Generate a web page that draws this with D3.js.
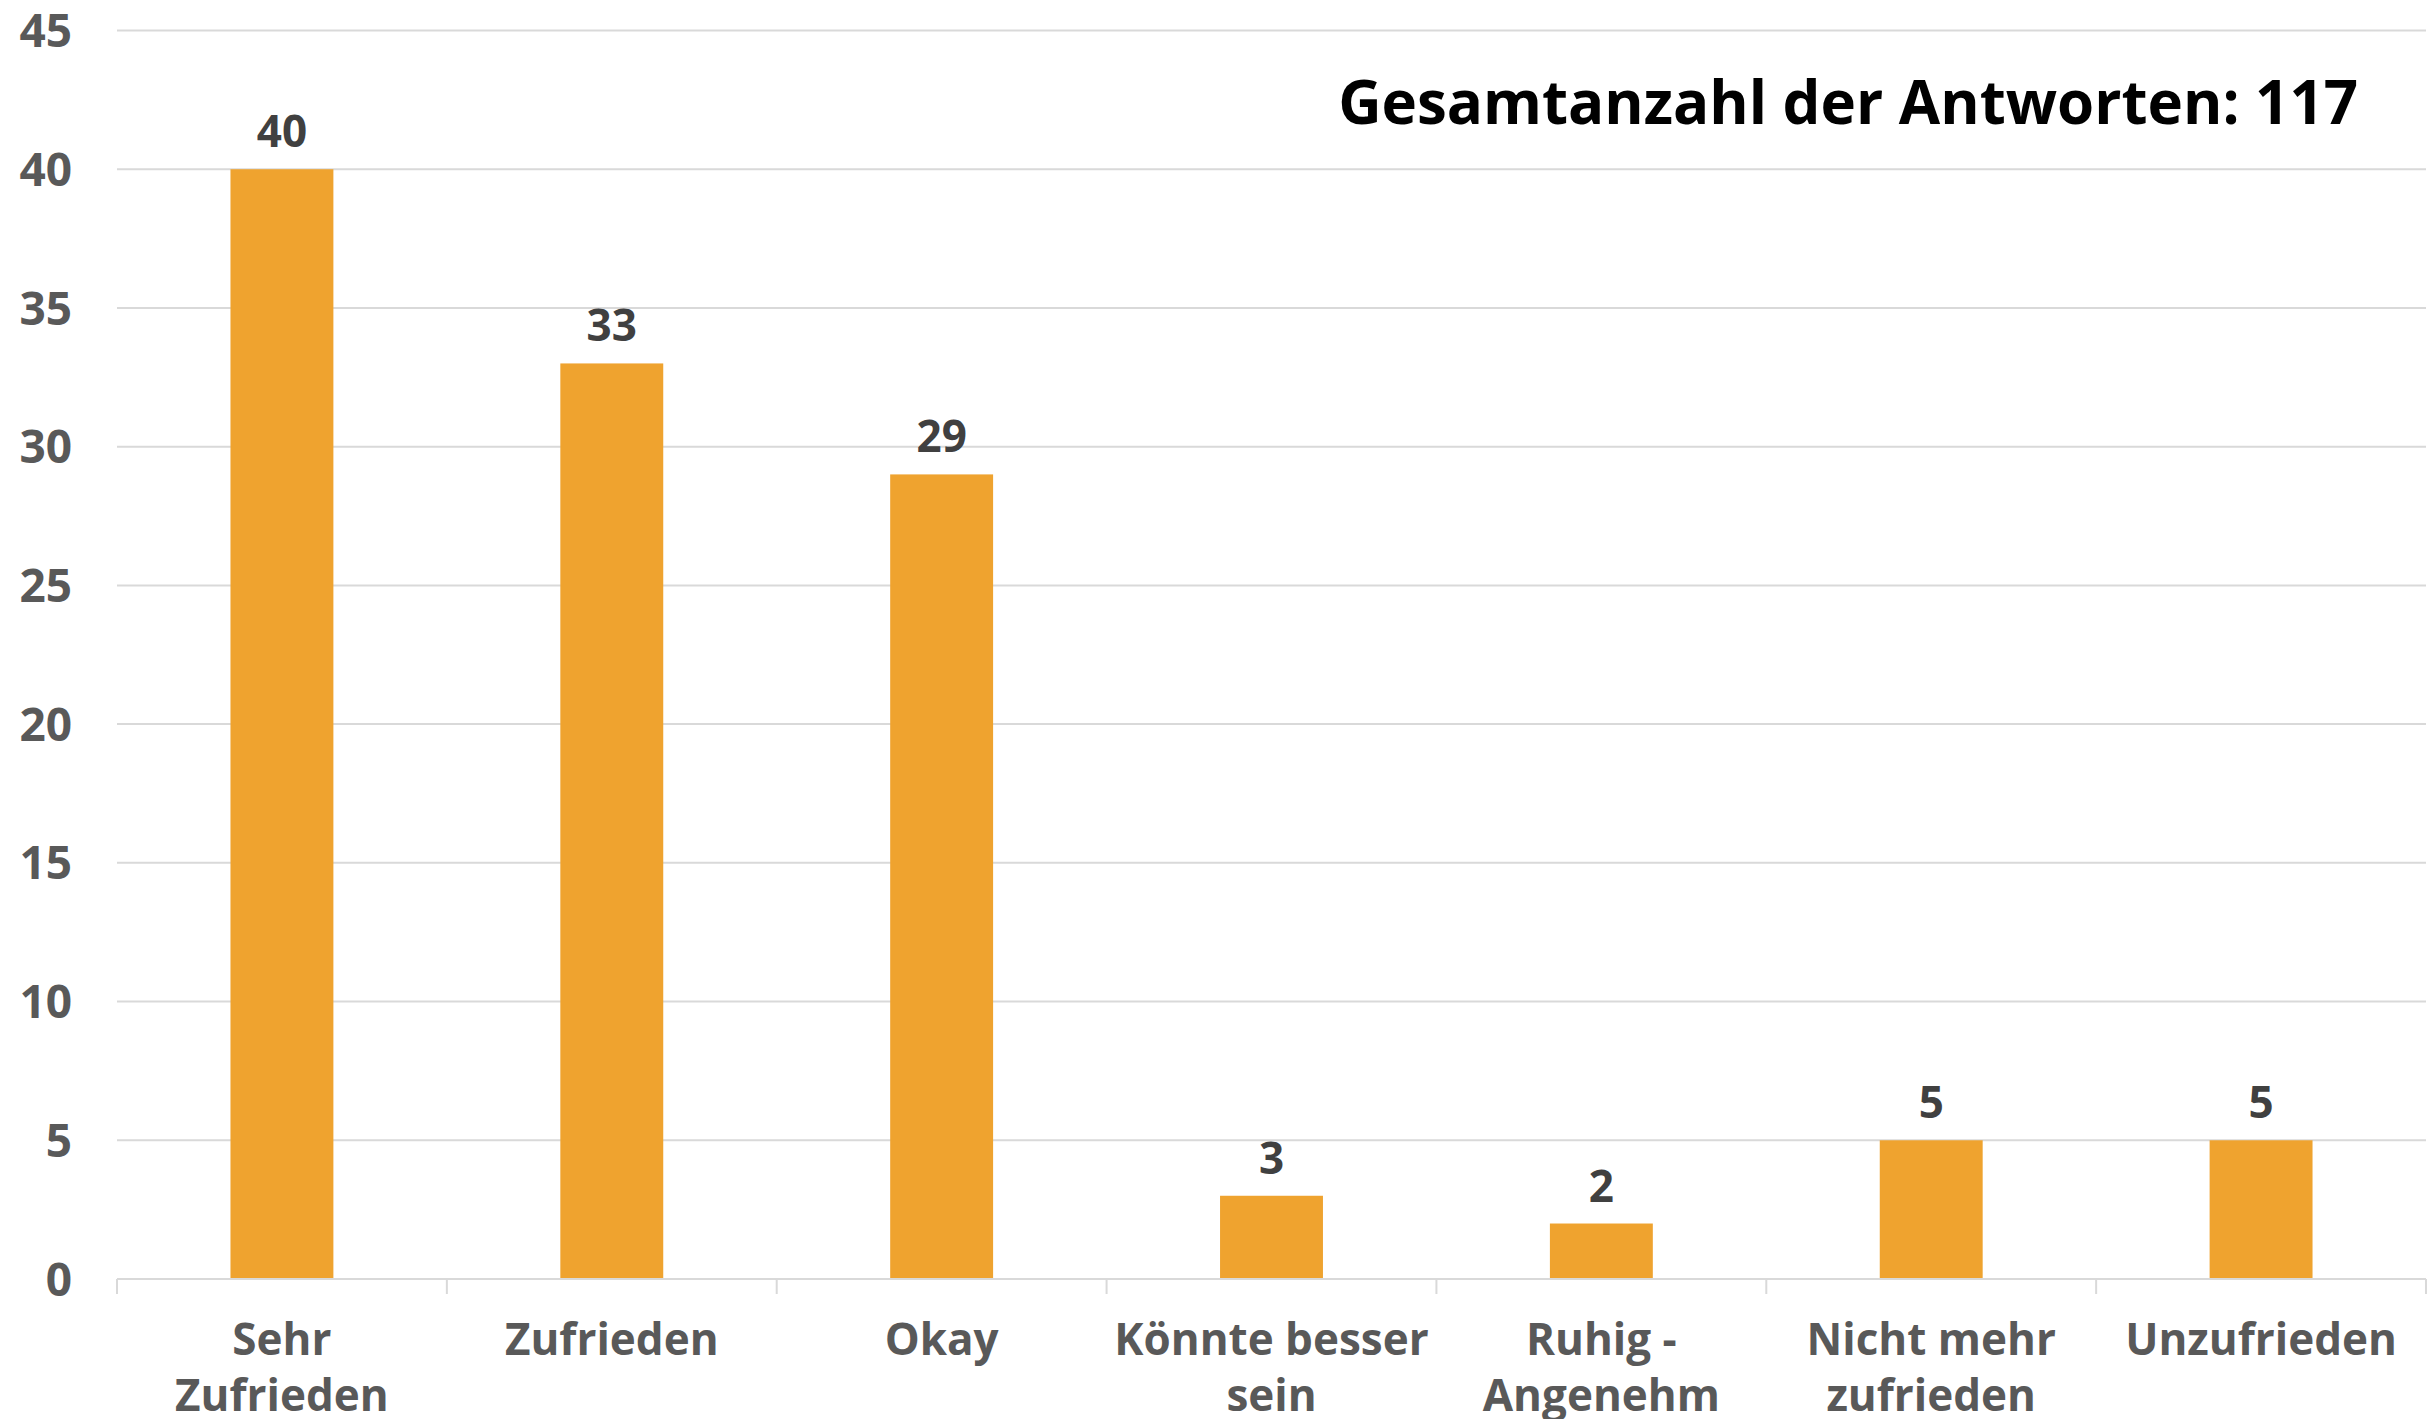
<!DOCTYPE html>
<html>
<head>
<meta charset="utf-8">
<script src="https://cdn.jsdelivr.net/npm/d3@7"></script>
<style>
  body { margin: 0; background: #fff; }
  text { font-family: "Open Sans", "DejaVu Sans", sans-serif; font-weight: 700; }
</style>
</head>
<body>
<div id="chart"></div>
<script>
  var categories = [["Sehr", "Zufrieden"], ["Zufrieden"], ["Okay"], ["Könnte besser", "sein"],
                    ["Ruhig -", "Angenehm"], ["Nicht mehr", "zufrieden"], ["Unzufrieden"]];
  var counts = [40, 33, 29, 3, 2, 5, 5];
  var yTicks = [0, 5, 10, 15, 20, 25, 30, 35, 40, 45];
  var title = "Gesamtanzahl der Antworten: 117";

  var width = 2432, height = 1419;
  var plotLeft = 117, plotRight = 2426, plotTop = 30.5, plotBottom = 1279;
  var barColor = '#efa32f';

  var data = categories.map(function(c, i) {
    return { key: c.join(' '), lines: c, value: counts[i] };
  });

  var x = d3.scaleBand()
      .domain(data.map(function(d) { return d.key; }))
      .range([plotLeft, plotRight]);
  var y = d3.scaleLinear().domain([0, 45]).range([plotBottom, plotTop]);
  var barW = x.bandwidth() * 0.312;

  var svg = d3.select('#chart').append('svg')
      .attr('width', width)
      .attr('height', height);

  // gridlines
  svg.append('g').selectAll('line')
    .data(yTicks.filter(function(t) { return t > 0; }))
    .enter().append('line')
      .attr('x1', plotLeft).attr('x2', plotRight)
      .attr('y1', function(d) { return y(d); })
      .attr('y2', function(d) { return y(d); })
      .attr('stroke', '#d9d9d9')
      .attr('stroke-width', 2);

  // y labels
  svg.append('g').selectAll('text')
    .data(yTicks)
    .enter().append('text')
      .attr('x', 72)
      .attr('y', function(d) { return y(d); })
      .attr('dy', '0.36em')
      .attr('text-anchor', 'end')
      .attr('fill', '#595959')
      .attr('font-size', 46)
      .text(function(d) { return d; });

  // bars
  svg.append('g').selectAll('rect')
    .data(data)
    .enter().append('rect')
      .attr('x', function(d) { return x(d.key) + (x.bandwidth() - barW) / 2; })
      .attr('y', function(d) { return y(d.value); })
      .attr('width', barW)
      .attr('height', function(d) { return y(0) - y(d.value); })
      .attr('fill', barColor);

  // baseline and category ticks
  svg.append('line')
    .attr('x1', plotLeft).attr('x2', plotRight)
    .attr('y1', plotBottom).attr('y2', plotBottom)
    .attr('stroke', '#d9d9d9').attr('stroke-width', 2);

  var bounds = data.map(function(d) { return x(d.key); }).concat([plotRight]);
  svg.append('g').selectAll('line')
    .data(bounds)
    .enter().append('line')
      .attr('x1', function(d) { return d; }).attr('x2', function(d) { return d; })
      .attr('y1', plotBottom).attr('y2', plotBottom + 15)
      .attr('stroke', '#d9d9d9').attr('stroke-width', 2);

  // value labels
  svg.append('g').selectAll('text')
    .data(data)
    .enter().append('text')
      .attr('x', function(d) { return x(d.key) + x.bandwidth() / 2; })
      .attr('y', function(d) { return y(d.value) - 22; })
      .attr('text-anchor', 'middle')
      .attr('fill', '#404040')
      .attr('font-size', 44)
      .text(function(d) { return d.value; });

  // category labels
  var cat = svg.append('g').selectAll('text')
    .data(data)
    .enter().append('text')
      .attr('y', 1355)
      .attr('text-anchor', 'middle')
      .attr('fill', '#595959')
      .attr('font-size', 44);
  cat.selectAll('tspan')
    .data(function(d) { return d.lines.map(function(l) { return { l: l, cx: x(d.key) + x.bandwidth() / 2 }; }); })
    .enter().append('tspan')
      .attr('x', function(d) { return d.cx; })
      .attr('dy', function(d, i) { return i === 0 ? 0 : 56; })
      .text(function(d) { return d.l; });

  // total
  svg.append('text')
    .attr('x', 2358)
    .attr('y', 124)
    .attr('text-anchor', 'end')
    .attr('fill', '#000')
    .attr('font-size', 60)
    .text(title);
</script>
</body>
</html>
